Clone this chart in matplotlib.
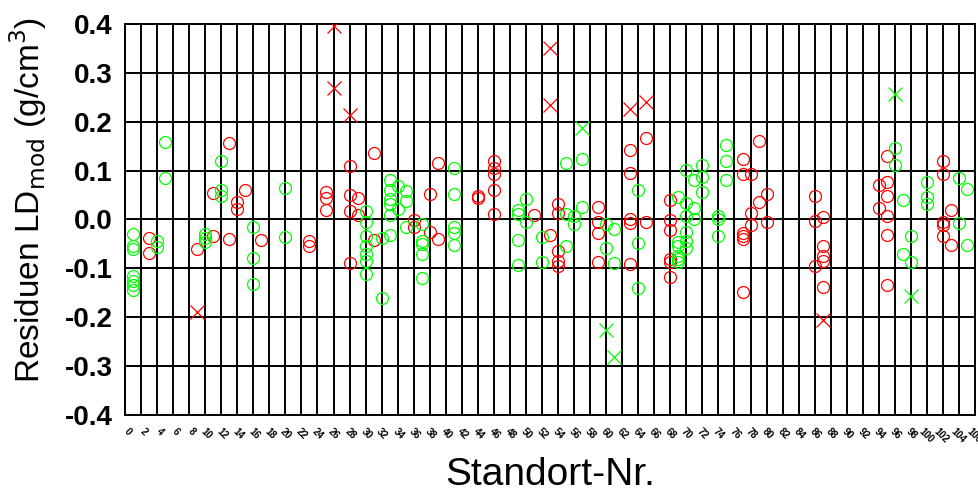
import numpy as np
import matplotlib
matplotlib.use('Agg')
import matplotlib.pyplot as plt
from matplotlib.transforms import ScaledTranslation

plt.rcParams['font.family'] = ['Liberation Sans', 'DejaVu Sans']
plt.rcParams['axes.unicode_minus'] = False

# ── residuals per site (circles = regular, crosses = outliers) ──────────────
red_sites = {
    3: [-0.037, -0.068], 9: [-0.061], 11: [-0.034, 0.055], 13: [0.156, -0.040],
    14: [0.035, 0.021], 15: [0.061], 17: [-0.042], 23: [-0.044, -0.054],
    25: [0.057, 0.044, 0.019], 28: [0.110, 0.050, 0.018, -0.089],
    29: [0.043, 0.010], 31: [0.137, -0.041], 36: [-0.001, -0.015],
    38: [0.053, -0.025], 39: [0.115, -0.039], 44: [0.048, 0.044],
    46: [0.120, 0.105, 0.093, 0.060, 0.012], 51: [0.010], 53: [-0.032],
    54: [0.031, 0.014, -0.064, -0.085, -0.095],
    59: [0.025, -0.006, -0.027, -0.088],
    63: [0.142, 0.096, 0.001, -0.008, -0.091], 65: [0.166, -0.005],
    68: [0.040, -0.001, -0.022, -0.081, -0.088, -0.117],
    77: [0.123, 0.094, -0.027, -0.033, -0.039, -0.149],
    78: [0.093, 0.013, -0.012], 79: [0.161, 0.035], 80: [0.052, -0.006],
    86: [0.048, -0.004, -0.095], 87: [0.006, -0.054, -0.074, -0.085, -0.138],
    94: [0.071, 0.023], 95: [0.130, 0.076, 0.048, 0.008, -0.032, -0.134],
    102: [0.120, 0.093, -0.006, -0.011, -0.033], 103: [0.019, -0.052],
}
green_sites = {
    1: [-0.030, -0.054, -0.061, -0.115, -0.125, -0.135, -0.145],
    4: [-0.045, -0.057], 5: [0.158, 0.085], 10: [-0.029, -0.037, -0.047],
    12: [0.120, 0.060, 0.048], 16: [-0.016, -0.078, -0.131], 20: [0.064, -0.035],
    30: [0.018, -0.005, -0.033, -0.054, -0.071, -0.084, -0.112],
    32: [-0.037, -0.160], 33: [0.080, 0.060, 0.042, 0.031, 0.010, -0.031],
    34: [0.069, 0.021], 35: [0.059, 0.038, -0.016],
    37: [-0.010, -0.044, -0.050, -0.071, -0.119],
    41: [0.106, 0.053, -0.016, -0.027, -0.052],
    49: [0.019, 0.012, -0.042, -0.093], 50: [0.042, -0.006], 52: [-0.035, -0.087],
    55: [0.115, 0.011, -0.054], 56: [0.008, -0.010], 57: [0.123, 0.025],
    60: [-0.010, -0.059], 61: [-0.020, -0.090], 64: [0.061, -0.049, -0.141],
    69: [0.046, -0.047, -0.054, -0.075, -0.081, -0.088],
    70: [0.101, 0.033, 0.008, -0.025, -0.045, -0.059],
    71: [0.080, 0.023, 0.001], 72: [0.112, 0.087, 0.057],
    74: [0.008, 0.001, -0.033], 75: [0.152, 0.119, 0.080],
    96: [0.146, 0.112], 97: [0.040, -0.071], 98: [-0.033, -0.088],
    100: [0.077, 0.045, 0.031], 104: [0.084, -0.008], 105: [0.063, -0.053],
}
red_out_x = [9, 26, 26, 28, 53, 53, 63, 65, 87]
red_out_y = [-0.190, 0.395, 0.269, 0.213, 0.351, 0.235, 0.227, 0.240, -0.206]
green_out_x = [57, 60, 61, 96, 98]
green_out_y = [0.188, -0.226, -0.282, 0.256, -0.157]

xticks = list(range(0, 107, 2))
yticks = [-0.4, -0.3, -0.2, -0.1, 0.0, 0.1, 0.2, 0.3, 0.4]
ytick_labels = ['-0.4', '-0.3', '-0.2', '-0.1', '0.0', '0.1', '0.2', '0.3', '0.4']


def flatten(sites):
    xs, ys = [], []
    for k, vals in sites.items():
        xs += [k] * len(vals)
        ys += vals
    return xs, ys


rx, ry = flatten(red_sites)
gx, gy = flatten(green_sites)

fig = plt.figure(figsize=(9.79, 4.94), dpi=100)
ax = fig.add_axes([0.1277, 0.160, 0.8683, 0.7914])

circ = dict(marker='o', ms=8.6, mfc='none', mew=0.9, ls='none', zorder=3)
ax.plot(rx, ry, mec='#ff0000', **circ)
ax.plot(gx, gy, mec='#00ff00', **circ)
cross = dict(marker='x', ms=9.5, mew=0.9, ls='none', zorder=3)
ax.plot(red_out_x, red_out_y, color='#ff0000', **cross)
ax.plot(green_out_x, green_out_y, color='#00ff00', **cross)

ax.set_xlim(0, 106)
ax.set_ylim(-0.4, 0.4)
ax.set_xticks(xticks)
ax.set_yticks(yticks)
ax.tick_params(axis='both', length=0)
ax.tick_params(axis='y', pad=9)
ax.tick_params(axis='x', pad=8)
ax.set_yticklabels(ytick_labels, fontsize=20, fontweight='bold')
ax.set_xticklabels([str(t) for t in xticks], fontsize=7, fontweight='bold',
                   rotation=-45, ha='right', va='top')
# slanted labels end just right of their grid line
shift = ScaledTranslation(0.08, 0, fig.dpi_scale_trans)
for lbl in ax.get_xticklabels():
    lbl.set_transform(lbl.get_transform() + shift)
ax.grid(True, color='black', lw=1.4, zorder=1)
ax.set_axisbelow(True)
for s in ax.spines.values():
    s.set_linewidth(1.4)

ax.set_ylabel('Residuen LD$_{\\mathrm{mod}}$ (g/cm$^{3}$)', fontsize=24)
ax.yaxis.set_label_coords(-0.090, 0.55)
ax.set_xlabel('Standort-Nr.', fontsize=28)
ax.xaxis.set_label_coords(0.5, -0.108)

fig.savefig('out.png', dpi=100)
